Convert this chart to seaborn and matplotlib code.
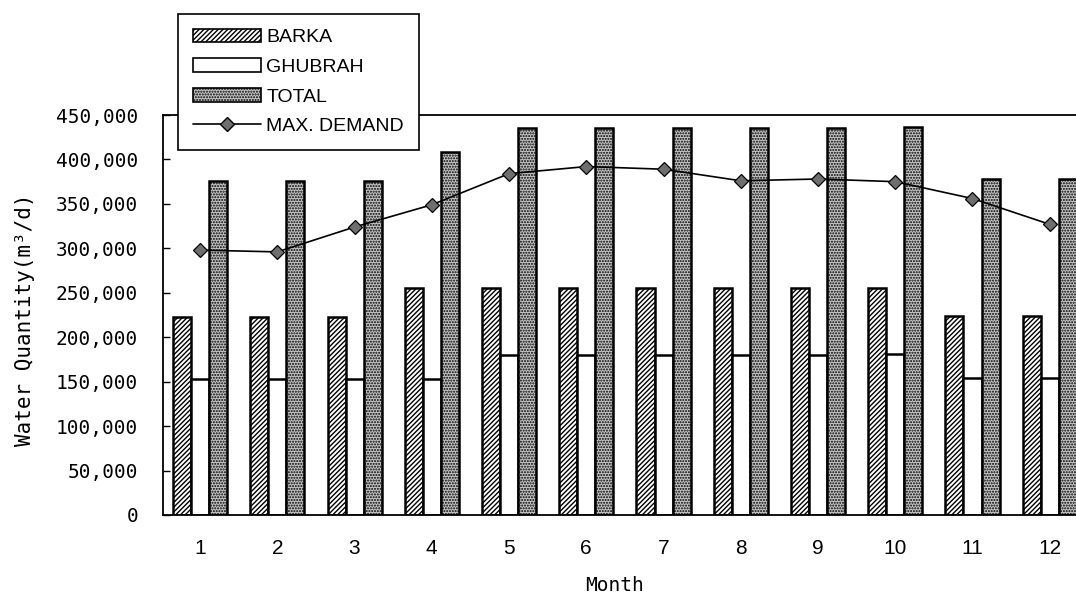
import numpy as np
import pandas as pd
import matplotlib
matplotlib.use("Agg")
import matplotlib.pyplot as plt
import seaborn as sns
from matplotlib.patches import Patch
from matplotlib.lines import Line2D

# ---- data ----
months = ["1", "2", "3", "4", "5", "6", "7", "8", "9", "10", "11", "12"]
series = ["BARKA", "GHUBRAH", "TOTAL"]
barka = [223000, 223000, 223000, 255000, 255000, 255000, 255000, 255000, 255000, 255000, 224000, 224000]
ghubrah = [153000, 153000, 153000, 153000, 180000, 180000, 180000, 180000, 180000, 181000, 154000, 154000]
total = [376000, 376000, 376000, 408000, 435000, 435000, 435000, 435000, 435000, 436000, 378000, 378000]
max_demand = [298000, 296000, 324000, 349000, 384000, 392000, 389000, 376000, 378000, 375000, 356000, 327000]
demand_label = "MAX. DEMAND"
y_ticks = [0, 50000, 100000, 150000, 200000, 250000, 300000, 350000, 400000, 450000]

sns.set_style("white")
plt.rcParams.update({
    "hatch.linewidth": 1.0,
    "hatch.color": "black",
    "text.color": "black",
    "axes.labelcolor": "black",
    "xtick.color": "black",
    "ytick.color": "black",
})

MONO = ["DejaVu Sans Mono"]
NARROW = ["Liberation Sans Narrow", "Liberation Sans", "DejaVu Sans"]

df = pd.DataFrame({
    "Month": months * 3,
    "Source": np.repeat(series, len(months)),
    "Quantity": barka + ghubrah + total,
})

fig = plt.figure(figsize=(10.76, 5.98), dpi=100)
ax = fig.add_axes([163 / 1076, 1 - 515 / 598, (1076 - 163) / 1076, 400 / 598])

GRAY = "#c6c6c6"
sns.barplot(data=df, x="Month", y="Quantity", hue="Source", hue_order=series,
            order=months, palette=["white", "white", GRAY], width=0.7,
            edgecolor="black", linewidth=1.8, legend=False, ax=ax, zorder=2)

hatches = ["///////", "", "......"]
for cont, h in zip(ax.containers, hatches):
    for bar in cont:
        bar.set_hatch(h)

sns.pointplot(x=months, y=max_demand, order=months, color="black", markers="D",
              markersize=7, linewidth=1.2, errorbar=None, ax=ax,
              markerfacecolor="#6e6e6e", markeredgecolor="black", zorder=4)

ax.set_xlim(-0.48, 11.34)
ax.set_ylim(0, 450000)
ax.set_yticks(y_ticks)
ax.set_yticklabels([f"{v:,}" for v in y_ticks], family=MONO, fontsize=14)
ax.set_xticks(range(len(months)))
ax.set_xticklabels(months, family=NARROW, fontsize=15)
ax.set_xticks([i + 0.5 for i in range(len(months) - 1)], minor=True)
ax.tick_params(axis="x", which="major", length=0, pad=17)
ax.tick_params(axis="x", which="minor", direction="in", length=5, width=1, color="black")
ax.tick_params(axis="y", direction="in", length=5, width=1, color="black", pad=18, left=True)

for s in ["left", "bottom", "top"]:
    ax.spines[s].set_visible(True)
    ax.spines[s].set_color("black")
    ax.spines[s].set_linewidth(1.3)
ax.spines["right"].set_visible(False)
ax.grid(False)

ax.set_xlabel("Month", family=MONO, fontsize=14)
ax.xaxis.set_label_coords(0.494, -0.152)
ax.xaxis.label.set_va("top")
ax.set_ylabel("Water Quantity(m³/d)", family=MONO, fontsize=15)
ax.yaxis.set_label_coords(-0.140, 0.4875)

handles = [
    Patch(facecolor="white", edgecolor="black", hatch="///////", linewidth=1.2),
    Patch(facecolor="white", edgecolor="black", linewidth=1.2),
    Patch(facecolor=GRAY, edgecolor="black", hatch="......", linewidth=1.2),
    Line2D([], [], color="black", linewidth=1.2, marker="D", markersize=7,
           markerfacecolor="#6e6e6e", markeredgecolor="black"),
]
leg = fig.legend(handles, series + [demand_label], loc="upper left",
                 bbox_to_anchor=(178 / 1076, 1 - 14 / 598), borderaxespad=0,
                 frameon=True, fancybox=False, edgecolor="black", framealpha=1,
                 prop={"family": NARROW, "size": 14}, handlelength=3.5,
                 handleheight=0.7, handletextpad=0.3, labelspacing=0.62,
                 borderpad=0.75)
leg.get_frame().set_linewidth(1.2)
leg.set_zorder(10)

fig.savefig("out.png", dpi=100)
